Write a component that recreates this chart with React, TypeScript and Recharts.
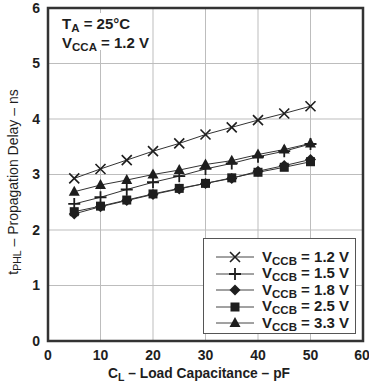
import { LineChart, Line, XAxis, YAxis, CartesianGrid, Legend, ReferenceArea, Label } from 'recharts';

// C_L in pF
const capacitance = [5, 10, 15, 20, 25, 30, 35, 40, 45, 50];

// tPHL in ns, one array per VCCB
const vccb12 = [2.93, 3.1, 3.26, 3.42, 3.56, 3.72, 3.85, 3.98, 4.1, 4.23];
const vccb15 = [2.47, 2.59, 2.73, 2.86, 2.97, 3.1, 3.2, 3.32, 3.42, 3.55];
const vccb18 = [2.29, 2.42, 2.53, 2.64, 2.74, 2.84, 2.93, 3.06, 3.16, 3.27];
const vccb25 = [2.33, 2.43, 2.54, 2.65, 2.75, 2.84, 2.94, 3.04, 3.13, 3.23];
const vccb33 = [2.69, 2.81, 2.9, 3.0, 3.08, 3.18, 3.25, 3.36, 3.45, 3.56];

const xTicks = [0, 10, 20, 30, 40, 50, 60];
const yTicks = [0, 1, 2, 3, 4, 5, 6];

const series = [
  { key: 'v12', label: '1.2 V', shape: 'x' },
  { key: 'v15', label: '1.5 V', shape: 'plus' },
  { key: 'v18', label: '1.8 V', shape: 'diamond' },
  { key: 'v25', label: '2.5 V', shape: 'square' },
  { key: 'v33', label: '3.3 V', shape: 'triangle' },
];

const data = capacitance.map((c, i) => ({
  c,
  v12: vccb12[i],
  v15: vccb15[i],
  v18: vccb18[i],
  v25: vccb25[i],
  v33: vccb33[i],
}));

const FONT = '"Liberation Sans", Arial, sans-serif';
const INK = '#1e1e1e';

function Marker({ cx, cy, shape }: { cx: number; cy: number; shape: string }) {
  switch (shape) {
    case 'x':
      return (
        <path
          d={`M${cx - 5},${cy - 5}L${cx + 5},${cy + 5}M${cx - 5},${cy + 5}L${cx + 5},${cy - 5}`}
          stroke={INK}
          strokeWidth={1.6}
          fill="none"
        />
      );
    case 'plus':
      return (
        <path
          d={`M${cx - 6},${cy}L${cx + 6},${cy}M${cx},${cy - 6}L${cx},${cy + 6}`}
          stroke={INK}
          strokeWidth={1.8}
          fill="none"
        />
      );
    case 'diamond':
      return <polygon points={`${cx},${cy - 5.5} ${cx + 5.5},${cy} ${cx},${cy + 5.5} ${cx - 5.5},${cy}`} fill={INK} />;
    case 'square':
      return <rect x={cx - 4.5} y={cy - 4.5} width={9} height={9} fill={INK} />;
    default:
      return <polygon points={`${cx},${cy - 6} ${cx + 5.5},${cy + 4} ${cx - 5.5},${cy + 4}`} fill={INK} />;
  }
}

function LegendBox() {
  return (
    <div
      style={{
        width: 153,
        height: 96,
        boxSizing: 'border-box',
        border: '1px solid #555',
        background: '#fff',
        paddingTop: 10,
        fontFamily: FONT,
        fontWeight: 'bold',
        fontSize: 15,
        color: INK,
      }}
    >
      {series.map((s) => (
        <div key={s.key} style={{ display: 'flex', alignItems: 'center', height: 16.5 }}>
          <svg width={58} height={16} style={{ flex: 'none' }}>
            <line x1={12} x2={50} y1={8} y2={8} stroke="#444" strokeWidth={1} />
            <Marker cx={31} cy={8} shape={s.shape} />
          </svg>
          <span style={{ whiteSpace: 'nowrap', lineHeight: '16px' }}>
            V<span style={{ fontSize: 11.5, position: 'relative', top: 3 }}>CCB</span> = {s.label}
          </span>
        </div>
      ))}
    </div>
  );
}

export default function App() {
  const tickStyle = { fontSize: 14, fontWeight: 'bold', fill: INK, fontFamily: FONT };
  return (
    <div style={{ position: 'absolute', left: 0, top: 0, width: 369, height: 382, background: '#fff' }}>
      <LineChart width={369} height={382} data={data} margin={{ top: 8, right: 6, bottom: 0, left: 0 }}>
        <CartesianGrid stroke="#bdbdbd" strokeWidth={1} />
        <XAxis
          type="number"
          dataKey="c"
          domain={[0, 60]}
          ticks={xTicks}
          tickLine={false}
          axisLine={false}
          tick={tickStyle}
          tickMargin={3}
          height={41}
        >
          <Label
            content={() => (
              <text x={199} y={378} textAnchor="middle" fontFamily={FONT} fontWeight="bold" fontSize={13.8} fill={INK}>
                C<tspan dy={3} fontSize={10.5}>L</tspan>
                <tspan dy={-3}> – Load Capacitance – pF</tspan>
              </text>
            )}
          />
        </XAxis>
        <YAxis
          type="number"
          domain={[0, 6]}
          ticks={yTicks}
          tickLine={false}
          axisLine={false}
          tick={tickStyle}
          width={48}
        >
          <Label
            content={() => (
              <text
                transform="translate(18,182) rotate(-90)"
                textAnchor="middle"
                fontFamily={FONT}
                fontSize={14}
                fill={INK}
              >
                t<tspan dy={3} fontSize={10.5}>PHL</tspan>
                <tspan dy={-3}> – Propagation Delay – ns</tspan>
              </text>
            )}
          />
        </YAxis>
        {series.map((s) => (
          <Line
            key={s.key}
            dataKey={s.key}
            type="linear"
            stroke="#333"
            strokeWidth={1}
            isAnimationActive={false}
            dot={(p: any) => <Marker key={`${s.key}-${p.index}`} cx={p.cx} cy={p.cy} shape={s.shape} />}
            activeDot={false}
          />
        ))}
        <ReferenceArea x1={0} x2={60} y1={0} y2={6} fill="none" stroke="#333" strokeWidth={2.5} ifOverflow="visible" />
        <Legend
          layout="vertical"
          align="center"
          verticalAlign="middle"
          content={() => <LegendBox />}
          wrapperStyle={{ left: 203, top: 238, width: 153, height: 96 }}
        />
      </LineChart>
      <div
        style={{
          position: 'absolute',
          left: 57,
          top: 13,
          width: 91,
          height: 37,
          background: '#fff',
          fontFamily: FONT,
          fontWeight: 'bold',
          fontSize: 15,
          color: INK,
          lineHeight: '17px',
          paddingLeft: 5,
          paddingTop: 2,
          boxSizing: 'border-box',
        }}
      >
        <div style={{ whiteSpace: 'nowrap' }}>
          T<span style={{ fontSize: 11.5, position: 'relative', top: 3 }}>A</span> = 25°C
        </div>
        <div style={{ whiteSpace: 'nowrap' }}>
          V<span style={{ fontSize: 11.5, position: 'relative', top: 3 }}>CCA</span> = 1.2 V
        </div>
      </div>
    </div>
  );
}
